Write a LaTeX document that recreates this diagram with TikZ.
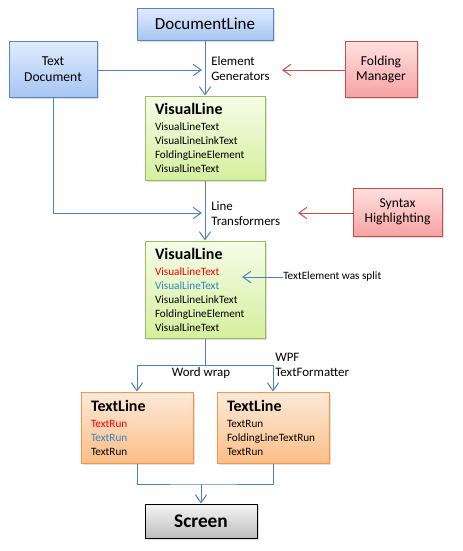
\documentclass[tikz,border=0pt]{standalone}
\usepackage{fontspec}
\setmainfont{Carlito}
\usetikzlibrary{arrows.meta,shadows}

\definecolor{linkblue}{RGB}{79,129,189}
\definecolor{linkred}{RGB}{192,80,77}
\definecolor{blueline}{RGB}{84,134,200}
\definecolor{bluetop}{RGB}{224,236,253}
\definecolor{bluebot}{RGB}{166,197,242}
\definecolor{redtop}{RGB}{255,224,224}
\definecolor{redbot}{RGB}{247,162,162}
\definecolor{greenline}{RGB}{155,187,89}
\definecolor{greentop}{RGB}{246,252,232}
\definecolor{greenbot}{RGB}{212,240,158}
\definecolor{orangeline}{RGB}{247,150,70}
\definecolor{orangetop}{RGB}{253,233,217}
\definecolor{orangebot}{RGB}{251,190,135}
\definecolor{greytop}{RGB}{245,245,245}
\definecolor{greybot}{RGB}{190,190,190}
\definecolor{runred}{RGB}{255,0,0}
\definecolor{runblue}{RGB}{49,132,190}

\begin{document}
\begin{tikzpicture}[x=0.75pt,y=0.75pt,yscale=-1,xscale=1,
  box/.style={line width=0.75pt, inner sep=0pt, align=center,
    drop shadow={shadow xshift=1.2pt, shadow yshift=-1.2pt, opacity=0.25}},
  bluebox/.style={box, draw=blueline, top color=bluetop, bottom color=bluebot},
  redbox/.style={box, draw=linkred, top color=redtop, bottom color=redbot},
  greenbox/.style={box, draw=greenline, top color=greentop, bottom color=greenbot,
    align=left, inner xsep=7.5pt, text width=75pt, minimum width=90pt,
    font=\fontsize{8.4}{10.5}\selectfont},
  orangebox/.style={box, draw=orangeline, top color=orangetop, bottom color=orangebot,
    align=left, inner xsep=7.5pt, text width=69pt, minimum width=84pt, minimum height=53.25pt,
    font=\fontsize{8.4}{10.5}\selectfont},
  greybox/.style={box, draw=black, top color=greytop, bottom color=greybot},
  steplabel/.style={inner sep=0pt, align=left, font=\fontsize{9.7}{11.3}\selectfont},
  flow/.style={draw=linkblue, line width=0.75pt, -{Straight Barb[length=6pt,width=8.5pt]}},
  redflow/.style={draw=linkred, line width=0.75pt, -{Straight Barb[length=6pt,width=8.5pt]}},
  joinline/.style={draw=linkblue, line width=0.75pt}
]
\useasboundingbox (0,0) rectangle (463,551);
%Shape: Rectangle
\node [bluebox, minimum width=102pt, minimum height=24pt, font=\fontsize{12.7}{15}\selectfont] (docline) at (205,24) {DocumentLine};
%Shape: Rectangle
\node [bluebox, minimum width=66pt, minimum height=42pt, font=\fontsize{10.2}{12}\selectfont] (textdoc) at (53,69.5) {Text\\Document};
%Shape: Rectangle
\node [redbox, minimum width=54pt, minimum height=42pt, font=\fontsize{10.2}{11.3}\selectfont] (folding) at (381,69.5) {Folding\\Manager};
%Shape: Rectangle
\node [greenbox, minimum height=63pt] (vline1) at (205,138) {{\fontsize{12}{14}\selectfont\bfseries VisualLine}\\[1.5pt]
  VisualLineText\\ VisualLineLinkText\\ FoldingLineElement\\ VisualLineText};
%Shape: Rectangle
\node [redbox, minimum width=66.75pt, minimum height=36pt, font=\fontsize{10.2}{11.3}\selectfont] (syntax) at (397.5,212) {Syntax\\Highlighting};
%Shape: Rectangle
\node [greenbox, minimum height=72.75pt] (vline2) at (205,289.5) {{\fontsize{12}{14}\selectfont\bfseries VisualLine}\\[1.5pt]
  \textcolor{runred}{VisualLineText}\\ \textcolor{runblue}{VisualLineText}\\ VisualLineLinkText\\ FoldingLineElement\\ VisualLineText};
%Shape: Rectangle
\node [orangebox] (tline1) at (137,427.5) {{\fontsize{12}{14}\selectfont\bfseries TextLine}\\[1.5pt]
  \textcolor{runred}{TextRun}\\ \textcolor{runblue}{TextRun}\\ TextRun};
%Shape: Rectangle
\node [orangebox] (tline2) at (273,427.5) {{\fontsize{12}{14}\selectfont\bfseries TextLine}\\[1.5pt]
  TextRun\\ FoldingLineTextRun\\ TextRun};
%Shape: Rectangle
\node [greybox, minimum width=84pt, minimum height=25.5pt, font=\fontsize{14.5}{17}\selectfont\bfseries] (screen) at (201,521) {Screen};

% Text Node
\node [steplabel, anchor=north west] (gen) at (211,56.5) {Element\\Generators};
% Text Node
\node [steplabel, anchor=north west] (trans) at (211,201) {Line\\Transformers};
% Text Node
\node [steplabel, anchor=north west] (wpf) at (275,352.5) {WPF\\TextFormatter};
% Text Node
\node [steplabel] (wrapnote) at (201,373) {Word wrap};
% Text Node
\node [inner sep=0pt, anchor=west, font=\fontsize{8.4}{10.5}\selectfont] (splitnote) at (283,277) {TextElement was split};

\coordinate (genin) at (202,70);
\coordinate (genfold) at (282,70);
\coordinate (transin) at (202,213);
\coordinate (transsyn) at (298,213);
\coordinate (splittip) at (242,277);
\coordinate (wrap) at (205,365);
\coordinate (merge) at (201,484);

\draw [flow] (docline) -- (vline1);
\draw [flow] (textdoc.east |- genin) -- (genin);
\draw [redflow] (folding.west |- genfold) -- (genfold);
\draw [flow] (textdoc.south) |- (transin);
\draw [redflow] (syntax.west |- transsyn) -- (transsyn);
\draw [flow] (vline1) -- (vline2);
\draw [flow] (splitnote.west) -- (splittip);
\draw [joinline] (vline2.south) -- (wrap);
\draw [flow] (wrap) -| (tline1.north);
\draw [flow] (wrap) -| (tline2.north);
\draw [joinline] (tline1.south) |- (merge) -| (tline2.south);
\draw [flow] (merge) -- (screen);
\end{tikzpicture}
\end{document}
